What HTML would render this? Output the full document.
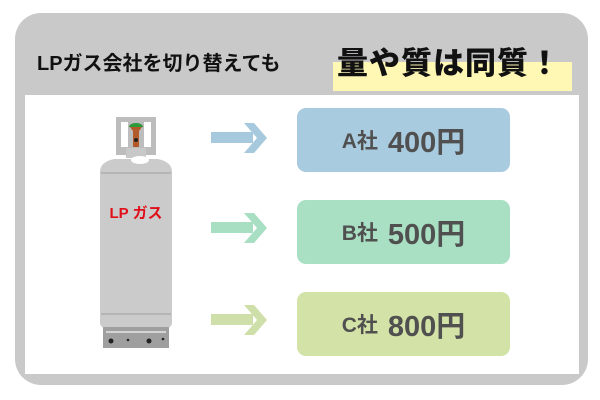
<!DOCTYPE html>
<html><head><meta charset="utf-8"><style>
body{margin:0;width:600px;height:400px;background:#fff;position:relative;overflow:hidden;font-family:"Liberation Sans","Noto Sans CJK JP",sans-serif}
.outer{position:absolute;left:15px;top:13px;width:573px;height:372px;background:#c9c9c9;border-radius:26px}
.inner{position:absolute;left:25px;top:95px;width:554px;height:279px;background:#fff}
.hl{position:absolute;left:333px;top:62px;width:239px;height:29px;background:#fef8b4}
.t1{position:absolute;left:37px;top:47px;font-size:20px;font-weight:bold;color:#111;white-space:nowrap}
.t2{position:absolute;left:337px;top:38px;font-size:31px;font-weight:900;color:#111;white-space:nowrap;letter-spacing:1px}
.box{position:absolute;left:297px;width:213px;height:64px;border-radius:9px;color:#505050;font-weight:bold;display:flex;align-items:center;justify-content:center;white-space:nowrap}
.box .s{font-size:21px;margin-right:10px}.box .b{font-size:29px}
</style></head><body>
<div class="outer"></div><div class="inner"></div><div class="hl"></div>
<div class="t1">LPガス会社を切り替えても</div>
<div class="t2">量や質は同質！</div>
<svg width="600" height="400" style="position:absolute;left:0;top:0">
<rect x="116" y="117" width="40" height="38" fill="#bdbdbd"/>
<rect x="121" y="122" width="7" height="25" fill="#fff"/><rect x="144" y="122" width="7" height="25" fill="#fff"/>
<path d="M130 127h12l-3 4v16h-6v-16z" fill="#b35a2a"/><path d="M129 127a7 4 0 0 1 14 0z" fill="#2a9a3a"/>
<circle cx="136" cy="140" r="2" fill="#222"/>
<rect x="126" y="148" width="20" height="10" fill="#c8c8c8"/>
<path d="M100 172q0-10 14-13h44q14 3 14 13v150q0 6-6 6h-60q-6 0-6-6z" fill="#cbcbcb"/>
<ellipse cx="140" cy="160" rx="9" ry="4" fill="#fff"/>
<line x1="101" y1="173" x2="171" y2="173" stroke="#b5b5b5" stroke-width="2"/>
<line x1="101" y1="314" x2="171" y2="314" stroke="#b5b5b5" stroke-width="2"/>
<rect x="103" y="327" width="66" height="21" fill="#9f9f9f"/>
<line x1="106" y1="332" x2="166" y2="332" stroke="#e5e5e5" stroke-width="1.5"/>
<circle cx="111" cy="341" r="2.5" fill="#222"/><circle cx="128" cy="340" r="1.3" fill="#222"/><circle cx="149" cy="341" r="2.5" fill="#222"/><circle cx="163" cy="339" r="1.3" fill="#222"/>
<text x="136" y="218" text-anchor="middle" font-size="15" font-weight="bold" fill="#e0101a" font-family="Liberation Sans,Noto Sans CJK JP,sans-serif">LP ガス</text>
<g fill="#a6c9dd"><rect x="211" y="132" width="42" height="11"/><path d="M244 123l10 0 13 15-13 15-10 0 13-15z"/></g>
<g fill="#a8dfc3"><rect x="211" y="222" width="42" height="11"/><path d="M244 213l10 0 13 15-13 15-10 0 13-15z"/></g>
<g fill="#cfdfaa"><rect x="211" y="314" width="42" height="11"/><path d="M244 305l10 0 13 15-13 15-10 0 13-15z"/></g>
</svg>
<div class="box" style="top:108px;background:#a9cbe0"><span class="s">A社</span><span class="b">400円</span></div>
<div class="box" style="top:200px;background:#a9dfc2"><span class="s">B社</span><span class="b">500円</span></div>
<div class="box" style="top:292px;background:#d3e2a6"><span class="s">C社</span><span class="b">800円</span></div>
</body></html>
